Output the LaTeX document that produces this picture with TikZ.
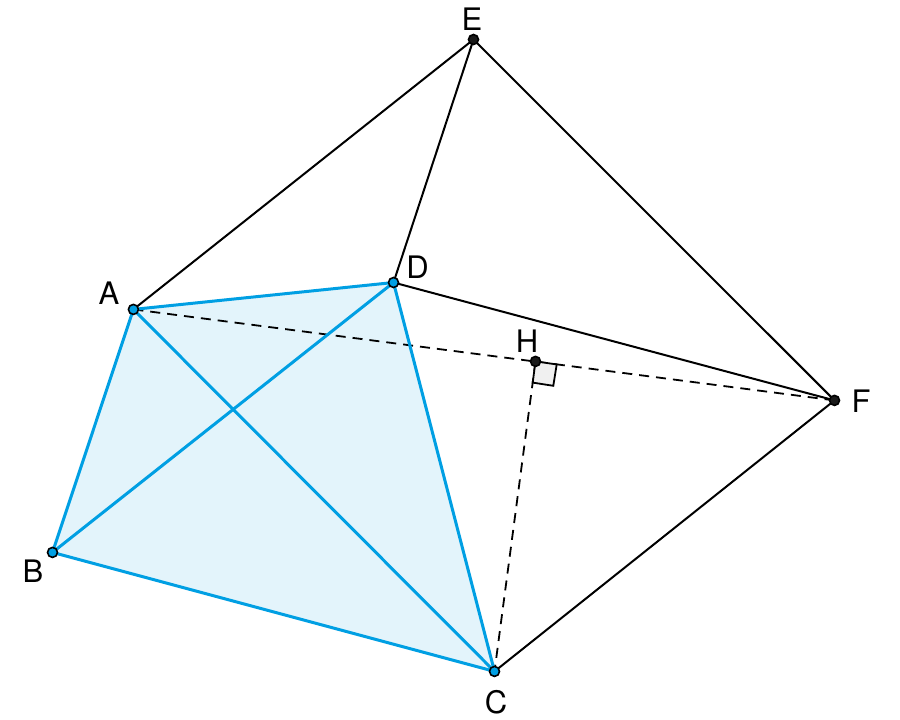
\documentclass[tikz,border=0pt]{standalone}
\usepackage{fontspec}
\setmainfont{TeX Gyre Heros}
\definecolor{cblue}{HTML}{009FE3}
\definecolor{lblue}{HTML}{E3F4FB}
\definecolor{dotk}{HTML}{1A1A1A}
\tikzset{
  blk/.style={black,line width=2pt,line cap=round},
  dsh/.style={black,line width=1.8pt,dash pattern=on 10pt off 7pt},
  blu/.style={cblue,line width=3pt,line cap=round},
  dotb/.style={circle,draw=black,fill=cblue,line width=1.6pt,minimum size=10pt,inner sep=0pt},
  dotd/.style={circle,draw=black,fill=dotk,line width=1.6pt,minimum size=10pt,inner sep=0pt},
  lab/.style={font=\fontsize{31}{31}\selectfont,inner sep=0pt,text=black},
}
\begin{document}
\begin{tikzpicture}[x=1pt,y=-1pt]
\useasboundingbox (0,0) rectangle (900,720);
\coordinate (A) at (133.4,309.4);
\coordinate (B) at (52.5,552.4);
\coordinate (C) at (494.5,671.4);
\coordinate (D) at (393.5,282.5);
\coordinate (E) at (473.5,39.5);
\coordinate (F) at (834.5,400.4);
\coordinate (H) at (535.5,361.4);
\coordinate (S1) at (556.7,364.4);
\coordinate (S2) at (553.3,385.8);
\coordinate (S3) at (532.7,382.6);
\fill[lblue] (A) -- (D) -- (C) -- (B) -- cycle;
\draw[dsh] (A) -- (F);
\draw[dsh] (H) -- (C);
\draw[black,fill=black!6,line width=1.8pt] (H) -- (S1) -- (S2) -- (S3) -- cycle;
\draw[blk] (A) -- (E);
\draw[blk] (D) -- (E);
\draw[blk] (E) -- (F);
\draw[blk] (D) -- (F);
\draw[blk] (C) -- (F);
\draw[blu] (A) -- (D);
\draw[blu] (A) -- (B);
\draw[blu] (B) -- (C);
\draw[blu] (D) -- (C);
\draw[blu] (A) -- (C);
\draw[blu] (B) -- (D);
\node[dotb] (dA) at (A) {};
\node[dotb] (dB) at (B) {};
\node[dotb] (dC) at (C) {};
\node[dotb] (dD) at (D) {};
\node[dotd] (dE) at (E) {};
\node[dotd] (dF) at (F) {};
\node[dotd] (dH) at (H) {};
\node[lab] (lA) at (109,293) {A};
\node[lab] (lB) at (33,571) {B};
\node[lab] (lC) at (496,702) {C};
\node[lab] (lD) at (417.5,267) {D};
\node[lab] (lE) at (472,19) {E};
\node[lab] (lF) at (861,401) {F};
\node[lab] (lH) at (527,341) {H};
\end{tikzpicture}
\end{document}
